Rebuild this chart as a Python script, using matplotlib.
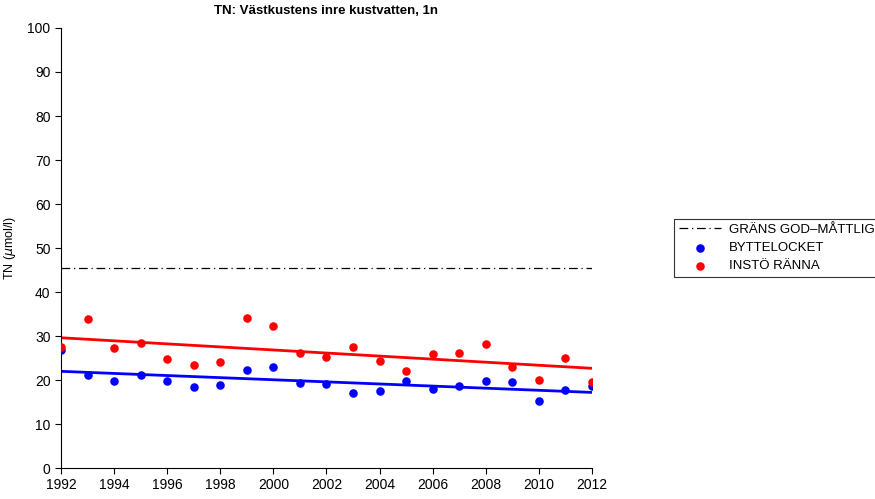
import numpy as np
import matplotlib.pyplot as plt

plt.rcParams['font.family'] = ['Liberation Sans', 'DejaVu Sans']

# Data
years = np.arange(1992, 2013)
byttelocket = [26.8, 21.2, 19.7, 21.2, 19.8, 18.3, 18.9, 22.3, 22.9, 19.3, 19.1,
               17.0, 17.5, 19.8, 17.9, 18.6, 19.8, 19.5, 15.2, 17.7, 18.6]
insto_ranna = [27.6, 33.8, 27.3, 28.5, 24.7, 23.4, 24.2, 34.2, 32.3, 26.1, 25.3,
               27.4, 24.3, 22.0, 25.9, 26.1, 28.1, 22.9, 19.9, 25.1, 19.6]
grans = 45.5

fig = plt.figure(figsize=(8.75, 4.99), dpi=100)
ax = fig.add_axes([61 / 875, 1 - 468 / 499, (592 - 61) / 875, (468 - 28) / 499])

# Gränslinje god-måttlig
ax.plot([years[0], years[-1]], [grans, grans], color='black', lw=0.9,
        linestyle=(0, (7, 3, 1, 3)), label='GRÄNS GOD\u2013MÅTTLIG')

# Punkter
ax.scatter(years, byttelocket, color='blue', s=38, zorder=3, label='BYTTELOCKET',
           linewidths=0)
ax.scatter(years, insto_ranna, color='red', s=38, zorder=3, label='INSTÖ RÄNNA',
           linewidths=0)

# Trendlinjer
for serie, farg in [(byttelocket, 'blue'), (insto_ranna, 'red')]:
    k, m = np.polyfit(years, serie, 1)
    ax.plot(years, k * years + m, color=farg, lw=2, zorder=2)

ax.set_xlim(1992, 2012)
ax.set_ylim(0, 100)
ax.set_xticks(np.arange(1992, 2013, 2))
ax.set_yticks(np.arange(0, 101, 10))
ax.spines['top'].set_visible(False)
ax.spines['right'].set_visible(False)
for s in ['left', 'bottom']:
    ax.spines[s].set_linewidth(0.8)
ax.tick_params(direction='out', length=4, width=0.8, labelsize=10)
ax.set_ylabel('TN ($\\mu$mol/l)', fontsize=9)
ax.yaxis.set_label_coords(-0.081, 0.5)
ax.set_title('TN: Västkustens inre kustvatten, 1n', fontsize=9.5, fontweight='bold',
             pad=10)

leg = fig.legend(loc='upper left', bbox_to_anchor=(674 / 875, 1 - 219 / 499),
                 frameon=True, fancybox=False, edgecolor='black', fontsize=9.5,
                 handlelength=3.2, borderpad=0.35, labelspacing=0.45,
                 handletextpad=0.6, borderaxespad=0, scatterpoints=1)
leg.get_frame().set_linewidth(0.8)

fig.savefig('out.png', dpi=100)
